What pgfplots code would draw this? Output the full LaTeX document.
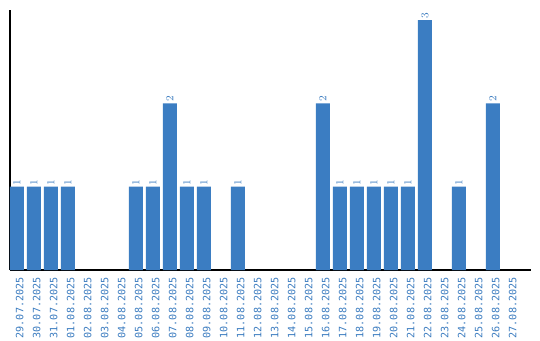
\documentclass[border=0pt]{standalone}
\usepackage{pgfplots}
\pgfplotsset{compat=1.18}
\usepackage{fontspec}
\setmainfont{DejaVu Sans Mono}
\definecolor{barblue}{RGB}{59,125,194}
\definecolor{txtblue}{RGB}{58,123,191}
\begin{document}
\begin{tikzpicture}
\useasboundingbox (0pt,0pt) rectangle (405pt,255pt);
\begin{axis}[
  at={(7.5pt,52.5pt)}, anchor=south west,
  scale only axis,
  width=390.75pt, height=195pt,
  xmin=-0.41, xmax=30.24,
  ymin=0, ymax=3.12,
  axis x line=bottom, axis y line=left,
  axis line style={black, line width=0.9pt, -},
  ytick=\empty,
  xtick={0,...,29},
  xtick style={draw=none},
  xticklabels={29.07.2025,30.07.2025,31.07.2025,01.08.2025,02.08.2025,03.08.2025,04.08.2025,05.08.2025,06.08.2025,07.08.2025,08.08.2025,09.08.2025,10.08.2025,11.08.2025,12.08.2025,13.08.2025,14.08.2025,15.08.2025,16.08.2025,17.08.2025,18.08.2025,19.08.2025,20.08.2025,21.08.2025,22.08.2025,23.08.2025,24.08.2025,25.08.2025,26.08.2025,27.08.2025},
  xticklabel style={rotate=90, anchor=east, font=\fontsize{7.6}{8}\selectfont, text=txtblue, inner sep=1pt, yshift=-2pt},
  ybar, bar width=10.5pt, bar shift=0pt,
  nodes near coords,
  every node near coord/.append style={rotate=90, anchor=west, font=\fontsize{7.6}{8}\selectfont, text=txtblue, inner sep=1pt},
  clip=false,
]
\addplot[fill=barblue, draw=none] coordinates {
(0,1) (1,1) (2,1) (3,1) (7,1) (8,1) (9,2) (10,1) (11,1) (13,1)
(18,2) (19,1) (20,1) (21,1) (22,1) (23,1) (24,3) (26,1) (28,2)
};
\end{axis}
\end{tikzpicture}
\end{document}
